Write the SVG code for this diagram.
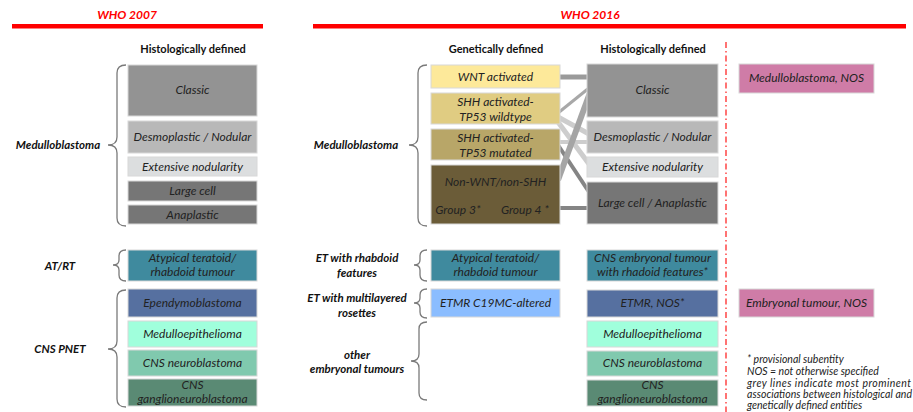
<svg xmlns="http://www.w3.org/2000/svg" width="913" height="412" viewBox="0 0 913 412">
<style>
.b{stroke:#d8d8d8;stroke-width:1}
.t{font-family:Lato,"Open Sans",sans-serif;font-style:italic;font-size:12px;fill:#222;text-anchor:middle}
.h{font-family:Lato,"Open Sans",sans-serif;font-weight:bold;font-size:11px;fill:#111;text-anchor:middle}
.l{font-family:Lato,"Open Sans",sans-serif;font-weight:bold;font-style:italic;font-size:11.5px;fill:#111;text-anchor:middle}
.w{font-family:Lato,"Open Sans",sans-serif;font-weight:bold;font-style:italic;font-size:12px;fill:#ff0000;text-anchor:middle}
.f{font-family:Lato,"Open Sans",sans-serif;font-style:italic;font-size:10.5px;fill:#222}
.br{fill:none;stroke:#7a7a7a;stroke-width:1.3}
.c{fill:none;stroke-linecap:butt}
</style>
<rect width="913" height="412" fill="#fff"/>
<g id="headers">
<text class="w" x="127" y="19">WHO 2007</text>
<rect x="12" y="24" width="251" height="4.5" fill="#ff0000"/>
<text class="w" x="590" y="19">WHO 2016</text>
<rect x="313" y="24" width="593" height="4.5" fill="#ff0000"/>
<text class="h" x="193" y="53">Histologically defined</text>
<text class="h" x="496" y="53">Genetically defined</text>
<text class="h" x="653" y="53">Histologically defined</text>
<line x1="726" y1="42" x2="726" y2="412" stroke="#ff5050" stroke-width="1.6" stroke-dasharray="6,3,1.5,3"/>
</g>
<g id="brackets">
<path class="br" d="M126,65 Q117,65 117,73 L117,137 Q117,145 108,145 Q117,145 117,153 L117,218 Q117,226 126,226"/>
<path class="br" d="M126,250 Q119,250 119,256 L119,260 Q119,265 113,265 Q119,265 119,270 L119,275 Q119,281 126,281"/>
<path class="br" d="M126,290 Q117,290 117,298 L117,341 Q117,349 108,349 Q117,349 117,357 L117,399 Q117,407 126,407"/>
<path class="br" d="M427,65 Q418,65 418,73 L418,137 Q418,145 409,145 Q418,145 418,153 L418,218 Q418,226 427,226"/>
<path class="br" d="M427,250 Q420,250 420,256 L420,260 Q420,265 414,265 Q420,265 420,270 L420,275 Q420,281 427,281"/>
<path class="br" d="M427,289 Q420,289 420,295 L420,298 Q420,303 414,303 Q420,303 420,308 L420,312 Q420,318 427,318"/>
<path class="br" d="M427,322 Q419,322 419,329 L419,354 Q419,361 411,361 Q419,361 419,368 L419,393 Q419,400 427,400"/>
</g>
<g id="labels">
<text class="l" x="58" y="149">Medulloblastoma</text>
<text class="l" x="60" y="270">AT/RT</text>
<text class="l" x="60" y="353">CNS PNET</text>
<text class="l" x="356" y="149">Medulloblastoma</text>
<text class="l" x="357" y="262">ET with rhabdoid</text>
<text class="l" x="357" y="277">features</text>
<text class="l" x="357" y="302">ET with multilayered</text>
<text class="l" x="357" y="317">rosettes</text>
<text class="l" x="357" y="359">other</text>
<text class="l" x="357" y="373">embryonal tumours</text>
</g>
<g id="connectors">
<line class="c" x1="558" y1="77" x2="589" y2="77" stroke="#9a9a9a" stroke-width="5"/>
<line class="c" x1="558" y1="113" x2="589" y2="88" stroke="#a8a8a8" stroke-width="3"/>
<line class="c" x1="558" y1="117" x2="589" y2="134" stroke="#cdcdcd" stroke-width="5"/>
<line class="c" x1="558" y1="122" x2="589" y2="164" stroke="#cdcdcd" stroke-width="5"/>
<line class="c" x1="558" y1="142" x2="589" y2="142" stroke="#cdcdcd" stroke-width="4"/>
<line class="c" x1="558" y1="145" x2="589" y2="192" stroke="#858585" stroke-width="4"/>
<line class="c" x1="558" y1="180" x2="591" y2="90" stroke="#a5a5a5" stroke-width="6"/>
<line class="c" x1="558" y1="208" x2="589" y2="208" stroke="#858585" stroke-width="4"/>
</g>
<g id="who2007-classic"><rect class="b" x="128" y="65" width="129" height="51" fill="#939393"/><text class="t" x="192.5" y="94">Classic</text></g>
<g id="who2007-desmo"><rect class="b" x="128" y="121" width="129" height="32" fill="#b8b8b8"/><text class="t" x="192.5" y="141">Desmoplastic / Nodular</text></g>
<g id="who2007-extensive"><rect class="b" x="128" y="157" width="129" height="19" fill="#dcdedf"/><text class="t" x="192.5" y="171">Extensive nodularity</text></g>
<g id="who2007-large"><rect class="b" x="128" y="181" width="129" height="20" fill="#767676"/><text class="t" x="192.5" y="195">Large cell</text></g>
<g id="who2007-anaplastic"><rect class="b" x="128" y="205" width="129" height="19" fill="#767676"/><text class="t" x="192.5" y="219">Anaplastic</text></g>
<g id="who2007-atrt"><rect class="b" x="128" y="250" width="129" height="31" fill="#3f8a9e"/><text class="t" x="192.5" y="262">Atypical teratoid/</text><text class="t" x="192.5" y="276">rhabdoid tumour</text></g>
<g id="who2007-ependymo"><rect class="b" x="128" y="289" width="129" height="28" fill="#5670a0"/><text class="t" x="192.5" y="307">Ependymoblastoma</text></g>
<g id="who2007-medulloepi"><rect class="b" x="128" y="321" width="129" height="26" fill="#a0ffdc"/><text class="t" x="192.5" y="338">Medulloepithelioma</text></g>
<g id="who2007-neuro"><rect class="b" x="128" y="350" width="129" height="26" fill="#80c9ae"/><text class="t" x="192.5" y="367">CNS neuroblastoma</text></g>
<g id="who2007-ganglio"><rect class="b" x="128" y="379" width="129" height="27" fill="#5a8a74"/><text class="t" x="192.5" y="389">CNS</text><text class="t" x="192.5" y="403">ganglioneuroblastoma</text></g>
<g id="gen-wnt"><rect class="b" x="431" y="65" width="129" height="23" fill="#fde99a"/><text class="t" x="495.5" y="81">WNT activated</text></g>
<g id="gen-shh-wt"><rect class="b" x="431" y="93" width="129" height="31" fill="#e0cc82"/><text class="t" x="495.5" y="106">SHH activated-</text><text class="t" x="495.5" y="121">TP53 wildtype</text></g>
<g id="gen-shh-mut"><rect class="b" x="431" y="129" width="129" height="31" fill="#b8a668"/><text class="t" x="495.5" y="142">SHH activated-</text><text class="t" x="495.5" y="157">TP53 mutated</text></g>
<g id="gen-nonwnt"><rect class="b" x="431" y="165" width="129" height="59" fill="#6b5c38"/><text class="t" x="495.5" y="186">Non-WNT/non-SHH</text><text class="t" x="458" y="214">Group 3*</text><text class="t" x="525" y="214">Group 4 *</text></g>
<g id="gen-atrt"><rect class="b" x="431" y="250" width="129" height="31" fill="#3f8a9e"/><text class="t" x="495.5" y="262">Atypical teratoid/</text><text class="t" x="495.5" y="276">rhabdoid tumour</text></g>
<g id="gen-etmr"><rect class="b" x="431" y="289" width="129" height="28" fill="#8bbdff"/><text class="t" x="495.5" y="307">ETMR C19MC-altered</text></g>
<g id="his-classic"><rect class="b" x="587" y="64" width="131" height="53" fill="#939393"/><text class="t" x="652.5" y="94">Classic</text></g>
<g id="his-desmo"><rect class="b" x="587" y="121" width="131" height="32" fill="#b8b8b8"/><text class="t" x="652.5" y="141">Desmoplastic / Nodular</text></g>
<g id="his-extensive"><rect class="b" x="587" y="157" width="131" height="20" fill="#dcdedf"/><text class="t" x="652.5" y="171">Extensive nodularity</text></g>
<g id="his-large"><rect class="b" x="587" y="182" width="131" height="42" fill="#767676"/><text class="t" x="652.5" y="207">Large cell / Anaplastic</text></g>
<g id="his-rhabdoid"><rect class="b" x="587" y="250" width="131" height="31" fill="#3f8a9e"/><text class="t" x="652.5" y="262">CNS embryonal tumour</text><text class="t" x="652.5" y="276">with rhadoid features*</text></g>
<g id="his-etmr"><rect class="b" x="587" y="290" width="131" height="27" fill="#5670a0"/><text class="t" x="652.5" y="307">ETMR, NOS*</text></g>
<g id="his-medulloepi"><rect class="b" x="587" y="321" width="131" height="26" fill="#a0ffdc"/><text class="t" x="652.5" y="338">Medulloepithelioma</text></g>
<g id="his-neuro"><rect class="b" x="587" y="351" width="131" height="25" fill="#80c9ae"/><text class="t" x="652.5" y="367">CNS neuroblastoma</text></g>
<g id="his-ganglio"><rect class="b" x="587" y="380" width="131" height="26" fill="#5a8a74"/><text class="t" x="652.5" y="389">CNS</text><text class="t" x="652.5" y="403">ganglioneuroblastoma</text></g>
<g id="nos-mb"><rect class="b" x="739" y="64" width="135" height="29" fill="#cf7ca7"/><text class="t" x="806.5" y="82">Medulloblastoma, NOS</text></g>
<g id="nos-emb"><rect class="b" x="739" y="289" width="135" height="28" fill="#cf7ca7"/><text class="t" x="806.5" y="307">Embryonal tumour, NOS</text></g>
<g id="footnote">
<text class="f" x="747" y="363">* provisional subentity</text>
<text class="f" x="747" y="375">NOS = not otherwise specified</text>
<text class="f" x="747" y="387" textLength="164" lengthAdjust="spacing">grey lines indicate most prominent</text>
<text class="f" x="747" y="398" textLength="165" lengthAdjust="spacing">associations between histological and</text>
<text class="f" x="747" y="409">genetically defined entities</text>
</g>
</svg>
